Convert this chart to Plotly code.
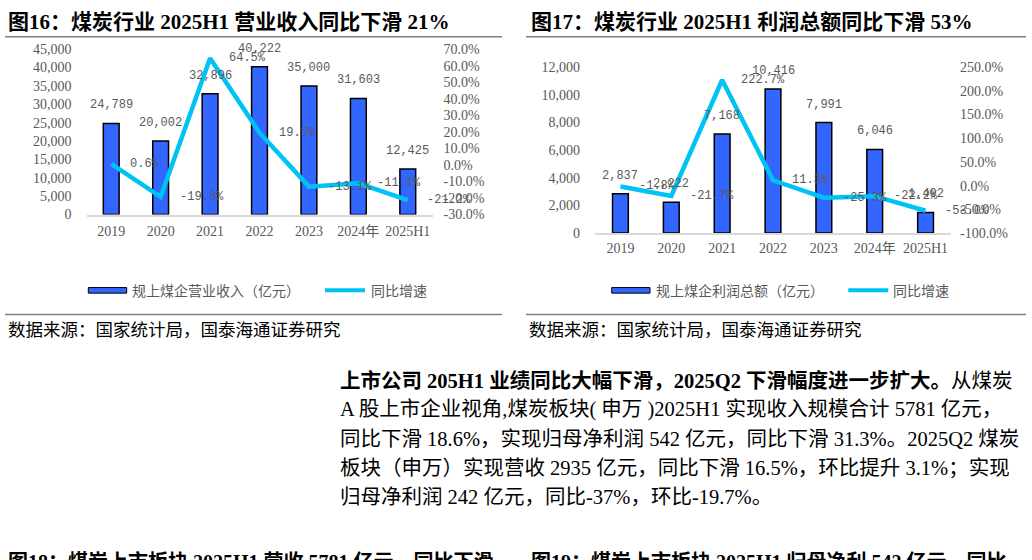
import plotly.graph_objects as go

# ---------------- data ----------------
categories = ["2019", "2020", "2021", "2022", "2023", "2024年", "2025H1"]
revenue = [24789, 20002, 32896, 40222, 35000, 31603, 12425]          # 规上煤企营业收入（亿元）
revenue_yoy = [0.6, -19.3, 64.5, 19.5, -13.1, -11.1, -21.2]           # 同比增速 %
profit = [2837, 2222, 7168, 10416, 7991, 6046, 1492]                  # 规上煤企利润总额（亿元）
profit_yoy = [-1.8, -21.7, 222.7, 11.3, -25.3, -22.2, -53.0]          # 同比增速 %

rev_ticks = [0, 5000, 10000, 15000, 20000, 25000, 30000, 35000, 40000, 45000]
rev_yoy_ticks = [-30, -20, -10, 0, 10, 20, 30, 40, 50, 60, 70]
pro_ticks = [0, 2000, 4000, 6000, 8000, 10000, 12000]
pro_yoy_ticks = [-100, -50, 0, 50, 100, 150, 200, 250]

title_left = "图16：煤炭行业 2025H1 营业收入同比下滑 21%"
title_right = "图17：煤炭行业 2025H1 利润总额同比下滑 53%"
legend_left = "规上煤企营业收入（亿元）"
legend_right = "规上煤企利润总额（亿元）"
legend_line = "同比增速"
source_text = "数据来源：国家统计局，国泰海通证券研究"
paragraph = [
    "<b>上市公司 205H1 业绩同比大幅下滑，2025Q2 下滑幅度进一步扩大。</b>从煤炭",
    "A 股上市企业视角,煤炭板块( 申万 )2025H1 实现收入规模合计 5781 亿元，",
    "同比下滑 18.6%，实现归母净利润 542 亿元，同比下滑 31.3%。2025Q2 煤炭",
    "板块（申万）实现营收 2935 亿元，同比下滑 16.5%，环比提升 3.1%；实现",
    "归母净利润 242 亿元，同比-37%，环比-19.7%。",
]
next_titles = [
    "<b>图18：煤炭上市板块 2025H1 营收 5781 亿元，同比下滑</b>",
    "<b>图19：煤炭上市板块 2025H1 归母净利 542 亿元，同比</b>",
]

# ---------------- style ----------------
W, H = 1032, 560
BAR = "#3366FF"
LINE = "#00C3F5"
GRAY = "#595959"
SERIF = "Liberation Serif, Noto Sans CJK SC, serif"
CJK = "Noto Sans CJK SC, sans-serif"
MONO = "Liberation Mono, monospace"


def px(x):
    return x / W


def py(y):
    return 1 - y / H


def pct(v):
    return f"{v:.1f}%"


fig = go.Figure()

fig.add_trace(go.Bar(x=categories, y=revenue, xaxis="x", yaxis="y", width=0.32,
                     marker=dict(color=BAR, line=dict(color="#000000", width=1.5)),
                     showlegend=False, hoverinfo="skip"))
fig.add_trace(go.Scatter(x=categories, y=revenue_yoy, xaxis="x", yaxis="y2", mode="lines",
                         line=dict(color=LINE, width=4.5), showlegend=False, hoverinfo="skip"))
fig.add_trace(go.Bar(x=categories, y=profit, xaxis="x2", yaxis="y3", width=0.31,
                     marker=dict(color=BAR, line=dict(color="#000000", width=1.5)),
                     showlegend=False, hoverinfo="skip"))
fig.add_trace(go.Scatter(x=categories, y=profit_yoy, xaxis="x2", yaxis="y4", mode="lines",
                         line=dict(color=LINE, width=4.5), showlegend=False, hoverinfo="skip"))

tickfont = dict(family=SERIF, size=14, color=GRAY)
xcommon = dict(type="category", categoryorder="array", categoryarray=categories,
               range=[-0.5, len(categories) - 0.5], autorange=False,
               showline=True, linecolor="#D9D9D9", linewidth=1.5,
               ticks="", showgrid=False, zeroline=False, tickfont=tickfont,
               fixedrange=True)
ycommon = dict(showgrid=False, zeroline=False, showline=False, ticks="",
               tickfont=tickfont, fixedrange=True, autorange=False)

fig.update_layout(
    width=W, height=H,
    margin=dict(l=0, r=0, t=0, b=0),
    paper_bgcolor="white", plot_bgcolor="rgba(0,0,0,0)",
    xaxis=dict(domain=[px(86.5), px(432.5)], anchor="y", ticklabelstandoff=3, **xcommon),
    yaxis=dict(domain=[py(213.3), py(43.3)], anchor="x", range=[0, 45000],
               tickvals=rev_ticks, ticktext=[f"{v:,}" for v in rev_ticks],
               ticklabelstandoff=14, **ycommon),
    yaxis2=dict(overlaying="y", side="right", anchor="x", range=[-30, 70],
                tickvals=rev_yoy_ticks, ticktext=[pct(v) for v in rev_yoy_ticks],
                ticklabelstandoff=10, **ycommon),
    xaxis2=dict(domain=[px(595), px(951)], anchor="y3", ticklabelstandoff=1, **xcommon),
    yaxis3=dict(domain=[py(232.3), py(61.7)], anchor="x2", range=[0, 12000],
                tickvals=pro_ticks, ticktext=[f"{v:,}" for v in pro_ticks],
                ticklabelstandoff=14, **ycommon),
    yaxis4=dict(overlaying="y3", side="right", anchor="x2", range=[-100, 250],
                tickvals=pro_yoy_ticks, ticktext=[pct(v) for v in pro_yoy_ticks],
                ticklabelstandoff=8, **ycommon),
)

annotations = []
lab_font = dict(family=MONO, size=12, color=GRAY)
for xa, ya, yb, vals, yoys in [("x", "y", "y2", revenue, revenue_yoy),
                               ("x2", "y3", "y4", profit, profit_yoy)]:
    for i, v in enumerate(vals):
        annotations.append(dict(x=i, y=v, xref=xa, yref=ya, text=f"{v:,}", showarrow=False,
                                yshift=18, yanchor="middle", font=lab_font))
    for i, v in enumerate(yoys):
        annotations.append(dict(x=i, y=v, xref=xa, yref=yb, text=pct(v), showarrow=False,
                                xanchor="left", xshift=17, yanchor="middle", font=lab_font))


def txt(x, y, text, size, family, color="#000000", anchor="left"):
    annotations.append(dict(x=px(x), y=py(y), xref="paper", yref="paper", text=text,
                            showarrow=False, xanchor=anchor, yanchor="middle",
                            font=dict(family=family, size=size, color=color)))


txt(6, 15, f"<b>{title_left}</b>", 21, SERIF)
txt(529, 15, f"<b>{title_right}</b>", 21, SERIF)
txt(130, 291, legend_left, 14, CJK, GRAY)
txt(369, 291, legend_line, 14, CJK, GRAY)
txt(654, 291, legend_right, 14, CJK, GRAY)
txt(891, 291, legend_line, 14, CJK, GRAY)
txt(6, 330, source_text, 17.5, CJK)
txt(527, 330, source_text, 17.5, CJK)
for i, line in enumerate(paragraph):
    txt(338, 384 + 29.8 * i, line, 20.5, SERIF)
txt(6, 570, next_titles[0], 20, SERIF)
txt(529, 570, next_titles[1], 20, SERIF)

shapes = []


def hline(x0, x1, y, color="#7F7F7F", width=1.5):
    shapes.append(dict(type="line", xref="paper", yref="paper", x0=px(x0), x1=px(x1),
                       y0=py(y), y1=py(y), line=dict(color=color, width=width)))


hline(5, 502, 30.5)
hline(526, 1026, 30.5)
hline(5, 502, 316)
hline(526, 1026, 316)
# legend keys
for x0, x1 in [(88.3, 126.7), (611.7, 650)]:
    shapes.append(dict(type="rect", xref="paper", yref="paper", x0=px(x0), x1=px(x1),
                       y0=py(294), y1=py(288.3), fillcolor=BAR,
                       line=dict(color="#000000", width=1)))
for x0, x1 in [(325, 365), (848.3, 888.3)]:
    hline(x0, x1, 291, LINE, 4)

fig.update_layout(annotations=annotations, shapes=shapes)
fig.write_html("out.html", config={"displayModeBar": False},
               post_script="document.body.style.margin='0';document.body.style.padding='0';"
                           "document.body.style.overflow='hidden';")
